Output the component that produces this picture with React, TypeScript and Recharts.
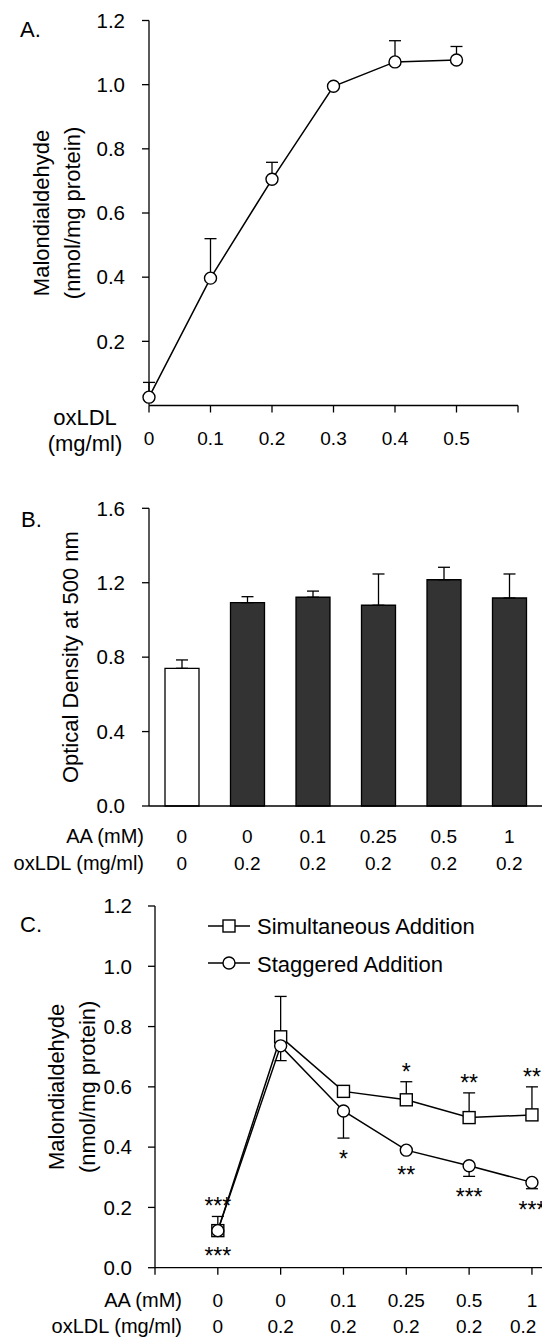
import React from 'react';
import { LineChart, Line, BarChart, Bar, Cell, XAxis, YAxis, ErrorBar } from 'recharts';

const FONT = '"Liberation Sans", Arial, Helvetica, sans-serif';
const INK = '#000';

// Panel A: malondialdehyde vs oxLDL dose
const doseA = [0, 0.1, 0.2, 0.3, 0.4, 0.5];
const mdaA = [0.026, 0.397, 0.705, 0.995, 1.071, 1.077];
const mdaAErr = [0.046, 0.123, 0.053, 0, 0.066, 0.042];
const xTicksA = [0, 0.1, 0.2, 0.3, 0.4, 0.5, 0.6];
const xLabelsA = ['0', '0.1', '0.2', '0.3', '0.4', '0.5', ''];
const yTicksA = [0.2, 0.4, 0.6, 0.8, 1.0, 1.2];

// Panel B: optical density
const aaB = ['0', '0', '0.1', '0.25', '0.5', '1'];
const oxB = ['0', '0.2', '0.2', '0.2', '0.2', '0.2'];
const odB = [0.74, 1.093, 1.122, 1.079, 1.216, 1.118];
const odBErr = [0.045, 0.032, 0.033, 0.168, 0.067, 0.129];
const yTicksB = [0, 0.4, 0.8, 1.2, 1.6];

// Panel C: simultaneous vs staggered addition
const aaC = ['0', '0', '0.1', '0.25', '0.5', '1'];
const oxC = ['0', '0.2', '0.2', '0.2', '0.2', '0.2'];
const simC = [0.123, 0.766, 0.585, 0.557, 0.498, 0.507];
const simCErr = [0.047, 0.134, 0, 0.06, 0.082, 0.093];
const stagC = [0.123, 0.736, 0.52, 0.39, 0.338, 0.283];
const stagCErr = [0, 0.049, 0.09, 0, 0.035, 0.021];
const sigSim = ['***', '', '', '*', '**', '**'];
const sigStag = ['***', '', '*', '**', '***', '***'];
const xTicksC = [0, 1, 2, 3, 4, 5, 6];
const yTicksC = [0, 0.2, 0.4, 0.6, 0.8, 1.0, 1.2];

const dataA = doseA.map((x, i) => ({ x, mda: mdaA[i], err: [0, mdaAErr[i]] }));
const dataB = odB.map((od, i) => ({ idx: i, od, err: [0, odBErr[i]] }));
const dataC = simC.map((sim, i) => ({
  pos: i + 1,
  sim,
  simErr: [0, simCErr[i]],
  simTop: sim + simCErr[i],
  stag: stagC[i],
  stagErr: [stagCErr[i], 0],
  stagLow: stagC[i] - stagCErr[i],
}));

const fmt1 = (v: number) => v.toFixed(1);

// keep a centred label inside the page
const fitX = (x: number, label: string) => Math.min(x, 539 - label.length * 5.3);

const mdaLabel = (c1: number, c2: number) => (props: any) => {
  const vb = props.viewBox;
  const cy = vb.y + vb.height / 2;
  return (
    <g>
      <text x={c1} y={cy} transform={`rotate(-90 ${c1} ${cy})`} textAnchor="middle" dominantBaseline="central" fontSize={22} fill={INK}>
        Malondialdehyde
      </text>
      <text x={c2} y={cy} transform={`rotate(-90 ${c2} ${cy})`} textAnchor="middle" dominantBaseline="central" fontSize={22} fill={INK}>
        (nmol/mg protein)
      </text>
    </g>
  );
};

const odLabel = (props: any) => {
  const vb = props.viewBox;
  const cy = vb.y + vb.height / 2;
  return (
    <text x={71} y={cy} transform={`rotate(-90 71 ${cy})`} textAnchor="middle" dominantBaseline="central" fontSize={22} fill={INK}>
      Optical Density at 500 nm
    </text>
  );
};

const TickA = (props: any) => {
  const { x, y, index } = props;
  return (
    <g>
      <text x={x} y={y + 32} textAnchor="middle" fontSize={19} fill={INK}>{xLabelsA[index]}</text>
      {index === 0 && (
        <>
          <text x={85} y={y + 12} textAnchor="middle" fontSize={22} fill={INK}>oxLDL</text>
          <text x={85} y={y + 38} textAnchor="middle" fontSize={22} fill={INK}>(mg/ml)</text>
        </>
      )}
    </g>
  );
};

const TickB = (props: any) => {
  const { x, y, index } = props;
  return (
    <g>
      <text x={x} y={y + 37} textAnchor="middle" fontSize={19} fill={INK}>{aaB[index]}</text>
      <text x={x} y={y + 64} textAnchor="middle" fontSize={19} fill={INK}>{oxB[index]}</text>
      {index === 0 && (
        <>
          <text x={144} y={y + 37} textAnchor="end" fontSize={20} fill={INK}>AA (mM)</text>
          <text x={144} y={y + 64} textAnchor="end" fontSize={20} fill={INK}>oxLDL (mg/ml)</text>
        </>
      )}
    </g>
  );
};

const TickC = (props: any) => {
  const { x, y, index } = props;
  if (index === 0) {
    return (
      <g>
        <text x={182} y={y + 32} textAnchor="end" fontSize={20} fill={INK}>AA (mM)</text>
        <text x={182} y={y + 58.5} textAnchor="end" fontSize={20} fill={INK}>oxLDL (mg/ml)</text>
      </g>
    );
  }
  const aa = aaC[index - 1];
  const ox = oxC[index - 1];
  return (
    <g>
      <text x={fitX(x, aa)} y={y + 32} textAnchor="middle" fontSize={19} fill={INK}>{aa}</text>
      <text x={fitX(x, ox)} y={y + 58.5} textAnchor="middle" fontSize={19} fill={INK}>{ox}</text>
    </g>
  );
};

const circleDot = { r: 6, fill: '#fff', stroke: INK, strokeWidth: 1.4 };

const SquareDot = (p: any) => (
  <rect key={`sq-${p.index}`} x={p.cx - 6} y={p.cy - 6} width={12} height={12} fill="#fff" stroke={INK} strokeWidth={1.4} />
);

const StarsAbove = (p: any) =>
  sigSim[p.index] ? (
    <text key={`st-${p.index}`} x={p.cx} y={p.cy - 2} textAnchor="middle" fontSize={23} fill={INK}>{sigSim[p.index]}</text>
  ) : (
    <g key={`st-${p.index}`} />
  );

const StarsBelow = (p: any) =>
  sigStag[p.index] ? (
    <text key={`sb-${p.index}`} x={p.cx} y={p.cy + (stagCErr[p.index] > 0 ? 16 : 20) + 13} textAnchor="middle" fontSize={23} fill={INK}>
      {sigStag[p.index]}
    </text>
  ) : (
    <g key={`sb-${p.index}`} />
  );

const axisLine = { stroke: INK, strokeWidth: 1.3 };
const tickLine = { stroke: INK, strokeWidth: 1.3 };
const yTick = { fill: INK, fontSize: 20.5 };
// ErrorBar width is per side here, so 6 gives a 12px cap
const CAP = 6;

export default function App() {
  return (
    <div style={{ position: 'absolute', left: 0, top: 0, width: 542, height: 1340, background: '#fff', fontFamily: FONT, color: INK, overflow: 'hidden' }}>
      {/* A */}
      <div style={{ position: 'absolute', left: 0, top: 0 }}>
        <LineChart width={542} height={460} data={dataA} margin={{ top: 20.5, right: 24, bottom: 0, left: 0 }}>
          <XAxis dataKey="x" type="number" domain={[0, 0.6]} ticks={xTicksA} tick={<TickA />} tickSize={7} tickMargin={0}
            height={54.5} axisLine={axisLine} tickLine={tickLine} interval={0} />
          <YAxis type="number" domain={[0, 1.2]} ticks={yTicksA} tickFormatter={fmt1} width={149} tick={yTick}
            tickSize={7} tickMargin={17} axisLine={axisLine} tickLine={tickLine} label={{ content: mdaLabel(41, 72) }} />
          <Line dataKey="mda" stroke={INK} strokeWidth={1.5} isAnimationActive={false} dot={false} activeDot={false}>
            <ErrorBar dataKey="err" width={CAP} stroke={INK} strokeWidth={1.3} direction="y" />
          </Line>
          <Line dataKey="mda" stroke="none" isAnimationActive={false} dot={circleDot} activeDot={false} legendType="none" />
        </LineChart>
      </div>

      {/* B */}
      <div style={{ position: 'absolute', left: 0, top: 470 }}>
        <BarChart width={542} height={410} data={dataB} margin={{ top: 38.3, right: 0, bottom: 0, left: 0 }}>
          <XAxis dataKey="idx" type="category" tick={<TickB />} tickLine={false} tickSize={0} tickMargin={0} height={74}
            axisLine={axisLine} interval={0} />
          <YAxis type="number" domain={[0, 1.6]} ticks={yTicksB} tickFormatter={fmt1} width={149} tick={yTick}
            tickSize={7} tickMargin={17} axisLine={axisLine} tickLine={tickLine} label={{ content: odLabel }} />
          <Bar dataKey="od" barSize={34} stroke={INK} strokeWidth={1.3} isAnimationActive={false}>
            {dataB.map((d) => (
              <Cell key={d.idx} fill={d.idx === 0 ? '#fff' : '#333'} />
            ))}
            <ErrorBar dataKey="err" width={CAP} stroke={INK} strokeWidth={1.3} direction="y" />
          </Bar>
        </BarChart>
      </div>

      {/* C */}
      <div style={{ position: 'absolute', left: 0, top: 880 }}>
        <LineChart width={542} height={460} data={dataC} margin={{ top: 26, right: 0, bottom: 0, left: 0 }}>
          <XAxis dataKey="pos" type="number" domain={[0, 6.16]} ticks={xTicksC} tick={<TickC />} tickSize={7} tickMargin={0}
            height={72.3} axisLine={axisLine} tickLine={tickLine} interval={0} />
          <YAxis type="number" domain={[0, 1.2]} ticks={yTicksC} tickFormatter={fmt1} width={155} tick={yTick}
            tickSize={7} tickMargin={16} axisLine={axisLine} tickLine={tickLine} label={{ content: mdaLabel(57, 88) }} />
          <Line dataKey="sim" stroke={INK} strokeWidth={1.5} isAnimationActive={false} dot={false} activeDot={false}>
            <ErrorBar dataKey="simErr" width={CAP} stroke={INK} strokeWidth={1.3} direction="y" />
          </Line>
          <Line dataKey="stag" stroke={INK} strokeWidth={1.5} isAnimationActive={false} dot={false} activeDot={false}>
            <ErrorBar dataKey="stagErr" width={CAP} stroke={INK} strokeWidth={1.3} direction="y" />
          </Line>
          <Line dataKey="sim" stroke="none" isAnimationActive={false} dot={SquareDot} activeDot={false} legendType="none" />
          <Line dataKey="stag" stroke="none" isAnimationActive={false} dot={circleDot} activeDot={false} legendType="none" />
          <Line dataKey="simTop" stroke="none" isAnimationActive={false} dot={StarsAbove} activeDot={false} legendType="none" />
          <Line dataKey="stagLow" stroke="none" isAnimationActive={false} dot={StarsBelow} activeDot={false} legendType="none" />
        </LineChart>
      </div>

      {/* panel letters and legend */}
      <svg width={542} height={1340} style={{ position: 'absolute', left: 0, top: 0, pointerEvents: 'none' }}>
        <text x={20} y={37} fontSize={22} fill={INK}>A.</text>
        <text x={21} y={527} fontSize={22} fill={INK}>B.</text>
        <text x={20} y={932} fontSize={22} fill={INK}>C.</text>
        <line x1={208} x2={250} y1={926} y2={926} stroke={INK} strokeWidth={1.5} />
        <rect x={223} y={920} width={12} height={12} fill="#fff" stroke={INK} strokeWidth={1.4} />
        <text x={257} y={934} fontSize={22} fill={INK}>Simultaneous Addition</text>
        <line x1={208} x2={250} y1={963} y2={963} stroke={INK} strokeWidth={1.5} />
        <circle cx={229} cy={963} r={6} fill="#fff" stroke={INK} strokeWidth={1.4} />
        <text x={257} y={971.5} fontSize={22} fill={INK}>Staggered Addition</text>
      </svg>
    </div>
  );
}
